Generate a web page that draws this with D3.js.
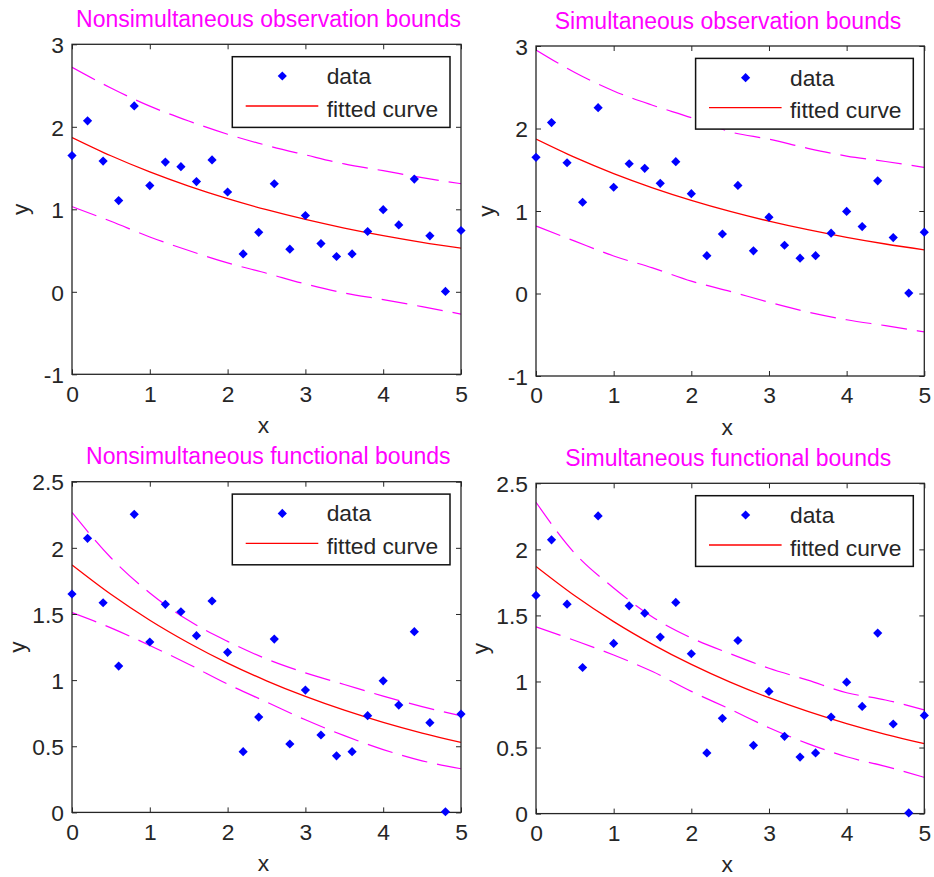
<!DOCTYPE html>
<html>
<head>
<meta charset="utf-8">
<script src="https://cdn.jsdelivr.net/npm/d3@7"></script>
<style>
  html, body { margin: 0; padding: 0; background: #fff; }
  svg { display: block; }
  text { font-family: "Liberation Sans", Arial, Helvetica, sans-serif; }
</style>
</head>
<body>
<svg id="chart" width="934" height="877"></svg>
<script>
// ---------------- DATA ----------------
const xData = [0, 0.2, 0.4, 0.6, 0.8, 1.0, 1.2, 1.4, 1.6, 1.8, 2.0, 2.2, 2.4, 2.6, 2.8, 3.0, 3.2, 3.4, 3.6, 3.8, 4.0, 4.2, 4.4, 4.6, 4.8, 5.0];
const yData = [1.651, 2.072, 1.585, 1.106, 2.253, 1.288, 1.573, 1.517, 1.336, 1.598, 1.210, 0.459, 0.721, 1.310, 0.517, 0.925, 0.585, 0.428, 0.459, 0.731, 0.995, 0.811, 1.366, 0.678, 0.005, 0.743];

const xCurve = [0, 0.5, 1, 1.5, 2, 2.5, 3, 3.5, 4, 4.5, 5];
const fittedCurve = [1.871, 1.649, 1.453, 1.281, 1.129, 0.995, 0.877, 0.773, 0.681, 0.600, 0.529];

const obsNonsimUpper = [2.721, 2.470, 2.250, 2.070, 1.910, 1.775, 1.660, 1.550, 1.468, 1.384, 1.310];
const obsNonsimLower = [1.032, 0.855, 0.665, 0.500, 0.350, 0.225, 0.095, -0.015, -0.095, -0.180, -0.270];
const obsSimUpper    = [2.952, 2.679, 2.455, 2.282, 2.131, 1.960, 1.870, 1.760, 1.666, 1.600, 1.528];
const obsSimLower    = [0.818, 0.635, 0.455, 0.310, 0.150, 0.025, -0.105, -0.225, -0.318, -0.390, -0.465];
const funNonsimUpper = [2.268, 1.925, 1.659, 1.450, 1.293, 1.160, 1.055, 0.967, 0.879, 0.800, 0.730];
const funNonsimLower = [1.510, 1.395, 1.262, 1.120, 0.970, 0.835, 0.700, 0.580, 0.475, 0.390, 0.330];
const funSimUpper    = [2.356, 1.970, 1.708, 1.488, 1.330, 1.210, 1.100, 1.010, 0.915, 0.860, 0.785];
const funSimLower    = [1.414, 1.310, 1.200, 1.075, 0.925, 0.790, 0.650, 0.530, 0.430, 0.358, 0.274];

const titles = ["Nonsimultaneous observation bounds", "Simultaneous observation bounds",
                "Nonsimultaneous functional bounds", "Simultaneous functional bounds"];
const xTicks = [0, 1, 2, 3, 4, 5];
const yTicksObs = [-1, 0, 1, 2, 3];
const yTicksFun = [0, 0.5, 1, 1.5, 2, 2.5];
const legendLabels = ["data", "fitted curve"];
const axisLabels = ["x", "y"];

// ---------------- LAYOUT ----------------
const panels = [
  { left: 72,  right: 461,   top: 44.3,  bottom: 374.3, yDomain: [-1, 3],  yTicks: yTicksObs, upper: obsNonsimUpper, lower: obsNonsimLower, title: titles[0], titleX: 268.5, titleY: 27.3, ylabOff: 44 },
  { left: 536, right: 924.3, top: 46,    bottom: 376,   yDomain: [-1, 3],  yTicks: yTicksObs, upper: obsSimUpper,    lower: obsSimLower,    title: titles[1], titleX: 728,   titleY: 29.3, ylabOff: 42 },
  { left: 72,  right: 461,   top: 481.7, bottom: 812.4, yDomain: [0, 2.5], yTicks: yTicksFun, upper: funNonsimUpper, lower: funNonsimLower, title: titles[2], titleX: 268.3, titleY: 464,  ylabOff: 47.5 },
  { left: 536, right: 924.3, top: 483.3, bottom: 813.6, yDomain: [0, 2.5], yTicks: yTicksFun, upper: funSimUpper,    lower: funSimLower,    title: titles[3], titleX: 728.2, titleY: 466,  ylabOff: 47.8 }
];

const FONT = 22.8;
const AXIS_COLOR = "#262626";
const svg = d3.select("#chart");
const diamond = "M0,-4.6L4.6,0L0,4.6L-4.6,0Z";

panels.forEach((p, i) => {
  const g = svg.append("g");
  const x = d3.scaleLinear().domain([0, 5]).range([p.left, p.right]);
  const y = d3.scaleLinear().domain(p.yDomain).range([p.bottom, p.top]);
  const w = p.right - p.left, h = p.bottom - p.top;

  const clipId = "clip" + i;
  svg.append("clipPath").attr("id", clipId)
    .append("rect").attr("x", p.left).attr("y", p.top).attr("width", w).attr("height", h);

  // axes box
  g.append("rect").attr("x", p.left).attr("y", p.top).attr("width", w).attr("height", h)
    .attr("fill", "#fff").attr("stroke", "none");

  const line = d3.line().x((d, k) => x(xCurve[k])).y(d => y(d)).curve(d3.curveMonotoneX);
  const plot = g.append("g").attr("clip-path", `url(#${clipId})`);

  // bounds
  [p.upper, p.lower].forEach(arr => {
    plot.append("path").attr("d", line(arr)).attr("fill", "none")
      .attr("stroke", "#ff00ff").attr("stroke-width", 1.2)
      .attr("stroke-dasharray", "26,10");
  });
  // fitted curve
  plot.append("path").attr("d", line(fittedCurve)).attr("fill", "none")
    .attr("stroke", "#ff0000").attr("stroke-width", 1.3);

  // axes with inward ticks on all sides
  const tickLen = 5;
  const bottomAxis = d3.axisBottom(x).tickValues(xTicks).tickSize(-tickLen).tickSizeOuter(0).tickFormat(d3.format("d"));
  const topAxis = d3.axisTop(x).tickValues(xTicks).tickSize(-tickLen).tickSizeOuter(0).tickFormat("");
  const leftAxis = d3.axisLeft(y).tickValues(p.yTicks).tickSize(-tickLen).tickSizeOuter(0).tickFormat(d => d3.format("")(d).replace("−", "-"));
  const rightAxis = d3.axisRight(y).tickValues(p.yTicks).tickSize(-tickLen).tickSizeOuter(0).tickFormat("");

  const gb = g.append("g").attr("transform", `translate(0,${p.bottom})`).call(bottomAxis);
  const gt = g.append("g").attr("transform", `translate(0,${p.top})`).call(topAxis);
  const gl = g.append("g").attr("transform", `translate(${p.left},0)`).call(leftAxis);
  const gr = g.append("g").attr("transform", `translate(${p.right},0)`).call(rightAxis);
  [gb, gt, gl, gr].forEach(a => {
    a.select(".domain").remove();
    a.selectAll(".tick line").attr("stroke", AXIS_COLOR).attr("stroke-width", 1);
    a.selectAll(".tick text").attr("fill", AXIS_COLOR).attr("font-size", FONT)
      .attr("font-family", '"Liberation Sans", Arial, sans-serif');
  });
  gb.selectAll(".tick text").attr("y", 27.4).attr("dy", 0).attr("dominant-baseline", "alphabetic");
  gl.selectAll(".tick text").attr("x", -8).attr("dy", "0.36em");

  // frame
  g.append("rect").attr("x", p.left).attr("y", p.top).attr("width", w).attr("height", h)
    .attr("fill", "none").attr("stroke", AXIS_COLOR).attr("stroke-width", 1.3);

  // data markers (not clipped)
  g.append("g").selectAll("path").data(yData).join("path")
    .attr("d", diamond)
    .attr("transform", (d, k) => `translate(${x(xData[k])},${y(d)})`)
    .attr("fill", "#0000ff");

  // axis labels
  g.append("text").attr("x", (p.left + p.right) / 2 - 3).attr("y", p.bottom + 58.8)
    .attr("text-anchor", "middle").attr("font-size", FONT).attr("fill", AXIS_COLOR).text(axisLabels[0]);
  g.append("text")
    .attr("transform", `translate(${p.left - p.ylabOff},${(p.top + p.bottom) / 2}) rotate(-90)`)
    .attr("text-anchor", "middle").attr("font-size", FONT).attr("fill", AXIS_COLOR).text(axisLabels[1]);

  // title
  g.append("text").attr("x", p.titleX).attr("y", p.titleY).attr("text-anchor", "middle")
    .attr("font-size", 23).attr("fill", "#ff00ff").text(p.title);

  // legend
  const lw = 217.7, lh = 70.7;
  const lx = p.right - 11 - lw, ly = p.top + 12.4;
  const lg = g.append("g");
  lg.append("rect").attr("x", lx).attr("y", ly).attr("width", lw).attr("height", lh)
    .attr("fill", "#fff").attr("stroke", "#111").attr("stroke-width", 1.5);
  lg.append("path").attr("d", diamond).attr("transform", `translate(${lx + 50},${ly + 19.3})`).attr("fill", "#0000ff");
  lg.append("text").attr("x", lx + 94.4).attr("y", ly + 27.3).attr("font-size", FONT).attr("fill", AXIS_COLOR).text(legendLabels[0]);
  lg.append("line").attr("x1", lx + 13.4).attr("x2", lx + 86).attr("y1", ly + 49.3).attr("y2", ly + 49.3)
    .attr("stroke", "#ff0000").attr("stroke-width", 1.3);
  lg.append("text").attr("x", lx + 94.4).attr("y", ly + 60).attr("font-size", FONT).attr("fill", AXIS_COLOR).text(legendLabels[1]);
});
</script>
</body>
</html>
